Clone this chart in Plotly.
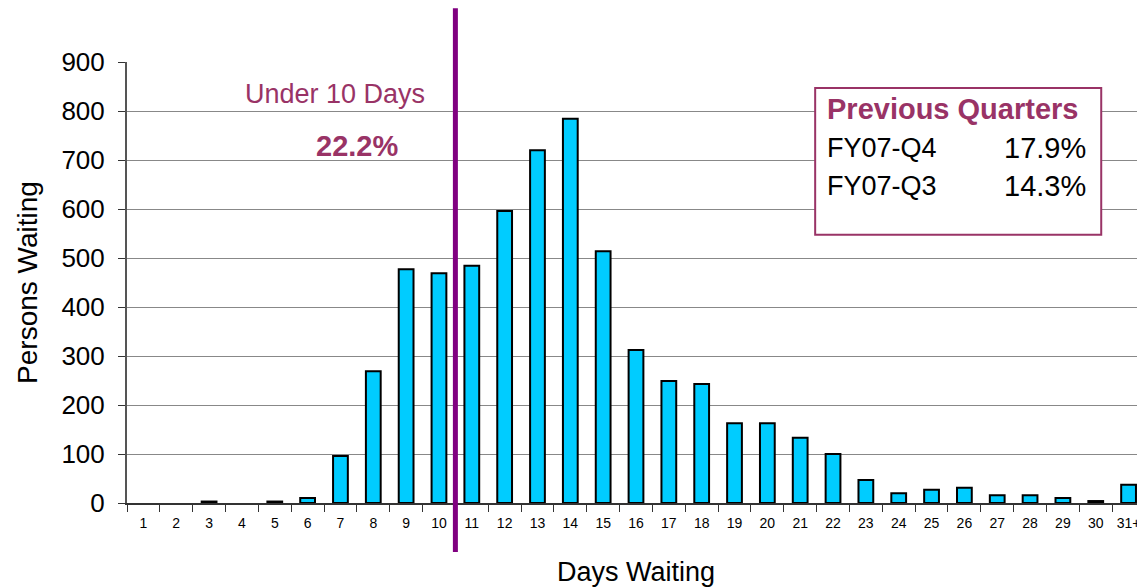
import plotly.graph_objects as go

days = [str(i) for i in range(1, 31)] + ["31+"]
persons = [0, 0, 3, 0, 3, 10, 96, 269, 477, 469, 484, 596, 720, 784, 514, 312,
           249, 243, 163, 163, 133, 100, 47, 20, 27, 31, 16, 16, 10, 4, 37]

prev_labels = ["FY07-Q4", "FY07-Q3"]
prev_values = ["17.9%", "14.3%"]
under10_pct = "22.2%"

PLUM = "#993366"
FONT = "Liberation Sans, Arial, sans-serif"

fig = go.Figure(go.Bar(
    x=days, y=persons,
    marker=dict(color="#00CCFF",
                line=dict(color="black", width=[2 if v > 0 else 0 for v in persons])),
    width=0.45,
))

# page body has an 8px margin; figure sized/offset to compensate
fig.update_layout(
    width=1137, height=579,
    margin=dict(l=119, r=0, t=54, b=84),
    plot_bgcolor="white", paper_bgcolor="white",
    font=dict(family=FONT, color="black"),
    showlegend=False,
)
fig.update_xaxes(
    type="category", tickson="boundaries", ticks="outside", ticklen=7,
    tickcolor="#333", tickfont=dict(size=14), showline=True, linecolor="#333",
    linewidth=1.5, showgrid=False, ticklabelstandoff=6,
    title=dict(text="Days Waiting", font=dict(size=27), standoff=34),
)
fig.update_yaxes(
    range=[0, 900], dtick=100, ticks="outside", ticklen=7, tickcolor="#333",
    tickfont=dict(size=26), showline=True, linecolor="#555", linewidth=2,
    showgrid=True, gridcolor="#888", gridwidth=1, zeroline=False, ticklabelstandoff=8,
    title=dict(text="Persons Waiting", font=dict(size=28), standoff=16),
)

# Vertical divider between 10 and 11 days
fig.add_shape(type="line", xref="x", yref="paper", x0=9.5, x1=9.5,
              y0=-0.111, y1=1.122, line=dict(color="#800080", width=5))

fig.add_annotation(text="Under 10 Days", xref="paper", yref="paper", x=0.204, y=0.927,
                   xanchor="center", yanchor="middle",
                   showarrow=False, font=dict(size=27, color=PLUM))
fig.add_annotation(text="<b>" + under10_pct + "</b>", xref="paper", yref="paper",
                   x=0.226, y=0.81, xanchor="center", yanchor="middle",
                   showarrow=False, font=dict(size=29, color=PLUM))

# Previous quarters box
fig.add_shape(type="rect", xref="paper", yref="paper", x0=0.676, x1=0.957,
              y0=0.608, y1=0.941, fillcolor="white", line=dict(color=PLUM, width=2),
              layer="above")
fig.add_annotation(text="<b>Previous Quarters</b>", xref="paper", yref="paper",
                   x=0.686, y=0.893, xanchor="left", yanchor="middle", showarrow=False,
                   font=dict(size=29, color=PLUM))
ys = [0.805, 0.719]
for lab, val, yy in zip(prev_labels, prev_values, ys):
    fig.add_annotation(text=lab, xref="paper", yref="paper", x=0.686, y=yy,
                       xanchor="left", yanchor="middle", showarrow=False,
                       font=dict(size=27))
    fig.add_annotation(text=val, xref="paper", yref="paper", x=0.944, y=yy,
                       xanchor="right", yanchor="middle", showarrow=False,
                       font=dict(size=29))

fig.write_html("out.html")
